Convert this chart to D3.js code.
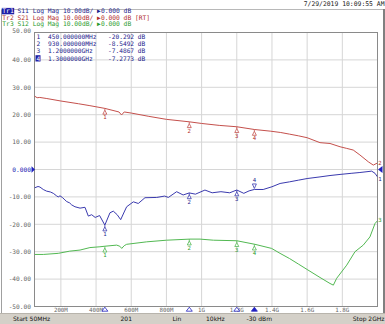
<!DOCTYPE html>
<html><head><meta charset="utf-8">
<script src="https://cdn.jsdelivr.net/npm/d3@7"></script>
<style>
body{margin:0;background:#fff;}
svg{display:block;}
text{font-family:"DejaVu Sans Mono",monospace;}
.sans{font-family:"DejaVu Sans",sans-serif;}
</style>
</head><body>
<svg id="c" width="385" height="324"></svg>
<script>
// ---------- data ----------
const s11Freq = [50,70,81,100,119,140,157,175,185,195,210,223,233,250,261,280,309,337,356,375,395,420,450,479,498,520,540,560,574,612,640,678,745,790,811,858,895,930,965,1019,1060,1110,1160,1200,1240,1270,1300,1350,1400,1446,1500,1550,1600,1673,1730,1787,1850,1900,1967,1986,2000];
const s11Val  = [-6.7,-6.2,-6.4,-7.3,-7.9,-8.2,-8.7,-9.6,-10.0,-9.6,-10.3,-11.1,-11.7,-12.2,-12.9,-13.6,-14.1,-13.8,-17.0,-16.5,-17.5,-16.8,-20.292,-15.8,-15.2,-16.5,-18.3,-15.5,-13.6,-11.8,-12.4,-10.3,-10.2,-9.7,-10.2,-8.1,-9.3,-8.5492,-9.0,-7.5,-8.5,-8.1,-8.5,-7.4867,-8.7,-7.8,-7.2773,-7.3,-6.3,-5.1,-4.5,-3.9,-3.3,-2.7,-2.2,-1.8,-1.4,-1.1,-0.6,-1.4,-2.7];

const s21Freq = [50,65,80,120,200,300,365,450,530,545,560,600,700,800,930,1000,1100,1200,1300,1390,1450,1500,1550,1600,1673,1730,1787,1825,1862,1900,1948,1976,2000];
const s21Val  = [26.8,26.2,26.3,25.9,25.0,24.0,23.3,22.3,21.0,19.9,21.0,20.6,19.4,18.3,17.4,16.8,16.1,15.6,14.6,14.0,13.5,12.9,12.3,11.6,9.8,9.5,8.3,7.7,7.1,5.3,2.8,1.6,2.4];

const s12Freq = [50,100,185,250,309,365,422,450,517,535,546,560,574,688,801,934,991,1067,1200,1303,1398,1446,1500,1550,1600,1673,1730,1749,1768,1825,1872,1919,1957,1986,2000];
const s12Val  = [-31.0,-31.0,-30.6,-29.8,-29.4,-28.5,-28.2,-28.0,-27.6,-28.0,-28.8,-27.8,-27.3,-26.4,-25.8,-25.4,-25.4,-25.8,-26.0,-27.3,-28.8,-30.6,-32.5,-34.5,-36.5,-39.4,-41.6,-42.2,-39.7,-34.9,-30.0,-27.6,-24.6,-19.7,-18.7];

const markerFreq = [450,930,1200,1300];
const markerNames = ["1","2","3","4"];
const markerFreqText = ["450.000000MHz","930.000000MHz","1.2000000GHz","1.3000000GHz"];
const markerValText = ["-20.292 dB","-8.5492 dB","-7.4867 dB","-7.2773 dB"];

const yTicks = [50,40,30,20,10,0,-10,-20,-30,-40,-50];
const yTickLabels = ["50.00","40.00","30.00","20.00","10.00","0.000","-10.00","-20.00","-30.00","-40.00","-50.00"];
const xTicks = [200,400,600,800,1000,1200,1400,1600,1800];
const xTickLabels = ["200M","400M","600M","800M","1G","1.2G","1.4G","1.6G","1.8G"];

const headerRows = [
  {tr:"Tr1", rest:" S11 Log Mag 10.00dB/ ", ref:"0.000 dB", extra:""},
  {tr:"Tr2", rest:" S21 Log Mag 10.00dB/ ", ref:"0.000 dB", extra:" [RT]"},
  {tr:"Tr3", rest:" S12 Log Mag 10.00dB/ ", ref:"0.000 dB", extra:""}
];
const statusItems = ["Start 50MHz","201","Lin","10kHz","-30 dBm","Stop 2GHz"];
const dateText = "7/29/2019 10:09:55 AM";

// ---------- layout ----------
const svg = d3.select("#c");
const L = 34.5, R = 377.5, T = 32.5, B = 306.5;
const x = d3.scaleLinear().domain([50,2000]).range([L,R]);
const y = d3.scaleLinear().domain([-50,50]).range([B,T]);
const colBlue = "#3a3aae", colRed = "#c4504c", colGreen = "#52b852";
const txtBlue = "#1c1c8c", txtRed = "#b02a2a", txtGreen = "#2a9a2a";

svg.append("rect").attr("width",385).attr("height",324).attr("fill","#fff");

// outer frame
svg.append("line").attr("x1",1.5).attr("x2",1.5).attr("y1",9.5).attr("y2",313).attr("stroke","#a0a0a0");
svg.append("line").attr("x1",1.5).attr("x2",384).attr("y1",9.5).attr("y2",9.5).attr("stroke","#b8b8b8");
svg.append("rect").attr("x",383).attr("y",9).attr("width",2).attr("height",305).attr("fill","#808080");

// date
svg.append("text").attr("x",384.5).attr("y",6.2).attr("text-anchor","end")
  .attr("font-size",6.4).attr("fill","#222").text(dateText);

// header
const hCols = [txtBlue, txtRed, txtGreen];
const hFs = 6.3, cw = hFs*0.602;
headerRows.forEach((h,i)=>{
  const by = 13.1 + i*6.6;
  if(i===0){
    svg.append("rect").attr("x",1.8).attr("y",by-5.2).attr("width",cw*3+1).attr("height",6.4).attr("fill","#2020a8");
  }
  const t = svg.append("text").attr("x",2.3).attr("y",by).attr("font-size",hFs).attr("fill",hCols[i]).attr("xml:space","preserve");
  t.append("tspan").attr("fill",i===0?"#fff":hCols[i]).text(h.tr);
  t.append("tspan").text(h.rest);
  t.append("tspan").text("\u25B6");
  t.append("tspan").text(h.ref + h.extra);
});

// grid
const g = svg.append("g");
g.selectAll(".vg").data(xTicks).enter().append("line")
  .attr("x1",d=>x(d)).attr("x2",d=>x(d)).attr("y1",T).attr("y2",B)
  .attr("stroke","#d6d6d6").attr("stroke-width",1);
g.selectAll(".hg").data(yTicks.slice(1,-1)).enter().append("line")
  .attr("x1",L).attr("x2",R).attr("y1",d=>y(d)).attr("y2",d=>y(d))
  .attr("stroke","#d6d6d6").attr("stroke-width",1);
g.append("rect").attr("x",L).attr("y",T).attr("width",R-L).attr("height",B-T)
  .attr("fill","none").attr("stroke","#8a8a8a").attr("stroke-width",1);

// y labels
svg.selectAll(".yl").data(yTicks).enter().append("text")
  .attr("x",31).attr("y",(d,i)=> (i===0? y(d)+0.6 : y(d)+2.2))
  .attr("text-anchor","end").attr("font-size",6.2)
  .attr("fill",d=>d===0? "#2020b0":"#666").text((d,i)=>yTickLabels[i]);
svg.append("path").attr("d",`M${31.5},${y(0)-3.2}L${35},${y(0)}L${31.5},${y(0)+3.2}Z`).attr("fill","#2020c0");

// x labels
svg.selectAll(".xl").data(xTicks).enter().append("text")
  .attr("x",d=>x(d)).attr("y",311.8).attr("text-anchor","middle").attr("font-size",5.8)
  .attr("fill","#666").text((d,i)=>xTickLabels[i]);

// marker table
markerFreq.forEach((f,i)=>{
  const by = 38.6 + i*7.3;
  if(i===3){
    svg.append("rect").attr("x",35.5).attr("y",by-5.3).attr("width",5).attr("height",6.3).attr("fill","#2020a8");
  }
  svg.append("text").attr("x",36.6).attr("y",by).attr("font-size",6.2).attr("fill",i===3?"#fff":txtBlue).text(markerNames[i]);
  svg.append("text").attr("x",48).attr("y",by).attr("font-size",6.2).attr("fill",txtBlue).text(markerFreqText[i]);
  svg.append("text").attr("x",108).attr("y",by).attr("font-size",6.2).attr("fill",txtBlue).text(markerValText[i]);
});

// traces
svg.append("clipPath").attr("id","pc").append("rect").attr("x",L).attr("y",T).attr("width",R-L).attr("height",B-T);
const traces = [
  {f:s21Freq, v:s21Val, c:colRed, tc:txtRed, name:"2"},
  {f:s12Freq, v:s12Val, c:colGreen, tc:txtGreen, name:"3"},
  {f:s11Freq, v:s11Val, c:colBlue, tc:txtBlue, name:"1"}
];
const line = d3.line().x(d=>x(d[0])).y(d=>y(d[1]));
traces.forEach(tr=>{
  const pts = tr.f.map((f,i)=>[f,tr.v[i]]);
  svg.append("path").attr("d",line(pts)).attr("fill","none").attr("stroke",tr.c)
    .attr("stroke-width",1).attr("clip-path","url(#pc)");
  const interp = d3.scaleLinear().domain(tr.f).range(tr.v);
  markerFreq.forEach((mf,i)=>{
    const mx = x(mf), my = y(interp(mf));
    const above = (tr.name==="1" && i===3);
    if(above){
      svg.append("path").attr("d",`M${mx-2},${my-5.5}L${mx+2},${my-5.5}L${mx},${my-1}Z`)
        .attr("fill","#fff").attr("stroke",tr.c).attr("stroke-width",0.8);
      svg.append("text").attr("x",mx).attr("y",my-7.5).attr("text-anchor","middle").attr("font-size",5.6).attr("fill",tr.tc).text(markerNames[i]);
    } else {
      svg.append("line").attr("x1",mx).attr("x2",mx).attr("y1",my).attr("y2",my+2).attr("stroke",tr.c).attr("stroke-width",0.8);
      svg.append("path").attr("d",`M${mx},${my+1.8}L${mx+2},${my+5.8}L${mx-2},${my+5.8}Z`)
        .attr("fill","#fff").attr("stroke",tr.c).attr("stroke-width",0.8);
      svg.append("text").attr("x",mx).attr("y",my+11).attr("text-anchor","middle").attr("font-size",5.6).attr("fill",tr.tc).text(markerNames[i]);
    }
  });
});
// trace end labels
svg.append("text").attr("x",380).attr("y",164.5).attr("text-anchor","middle").attr("font-size",5.6).attr("fill",txtRed).text("2");
svg.append("text").attr("x",380).attr("y",180.5).attr("text-anchor","middle").attr("font-size",5.6).attr("fill",txtBlue).text("1");
svg.append("text").attr("x",380).attr("y",222).attr("text-anchor","middle").attr("font-size",5.6).attr("fill",txtGreen).text("3");
// right reference arrow
svg.append("path").attr("d",`M${378},${y(0)}L${382.5},${y(0)-3.5}L${382.5},${y(0)+3.5}Z`).attr("fill","#2020c0");

// x-axis marker triangles
markerFreq.forEach((mf,i)=>{
  const mx = x(mf);
  svg.append("path").attr("d",`M${mx},${307.2}L${mx+3},${311.2}L${mx-3},${311.2}Z`)
    .attr("fill",i===3?"#2020c0":"#fff").attr("stroke","#2020c0").attr("stroke-width",0.8);
});

// status bar
svg.append("rect").attr("x",0).attr("y",313.5).attr("width",385).attr("height",10.5).attr("fill","#d4d0c8");
svg.append("line").attr("x1",0).attr("x2",385).attr("y1",313.5).attr("y2",313.5).attr("stroke","#b8b4ac");
const sx = [13,120.5,172.5,206,246.5,384.5];
statusItems.forEach((s,i)=>{
  svg.append("text").attr("class","sans").attr("x",sx[i]).attr("y",320.8).attr("font-size",6)
    .attr("text-anchor", i===5 ? "end":"start").attr("fill","#111").text(s);
});
</script>
</body></html>
